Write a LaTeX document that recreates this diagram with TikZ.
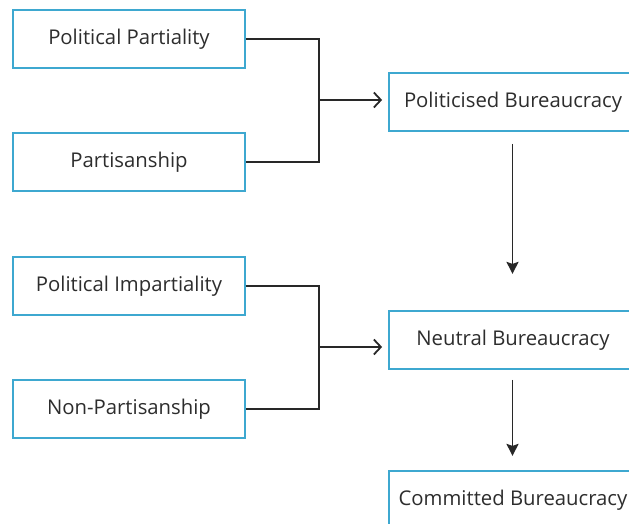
\documentclass[tikz,border=0pt]{standalone}
\usepackage{fontspec}
\setmainfont{Open Sans}
\usetikzlibrary{arrows.meta}

\begin{document}
\begin{tikzpicture}[x=1pt, y=1pt, >=Stealth]

	\def\lx{129}
	\def\rx{513}
	\def\bx{319}
	\def\lw{232}
	\def\rw{248}
	\def\bh{58}

	% Colours
	\definecolor{boxcolor}{RGB}{62,168,208}
	\definecolor{linecolor}{RGB}{40,40,40}
	\definecolor{textcolor}{RGB}{45,45,45}

	% Styles
	\tikzstyle{leftbox}=[draw=boxcolor, line width=1.8pt, fill=white, text=textcolor,
		minimum width=\lw, minimum height=\bh, inner sep=0pt, font=\fontsize{20.3}{24}\selectfont]
	\tikzstyle{rightbox}=[leftbox, minimum width=\rw]
	\tikzstyle{link}=[draw=linecolor, line width=1.8pt]

	% Frame
	\clip (0,0) rectangle (629,524);
	\fill[white] (0,0) rectangle (629,524);

	% Inputs
	\node[leftbox] (pp)   at (\lx, 485) {Political Partiality};
	\node[leftbox] (part) at (\lx, 362) {Partisanship};
	\node[leftbox] (pi)   at (\lx, 238) {Political Impartiality};
	\node[leftbox] (np)   at (\lx, 115) {Non-Partisanship};

	% Bureaucracies
	\node[rightbox] (polb) at (\rx, 422) {Politicised Bureaucracy};
	\node[rightbox] (neub) at (\rx, 184) {Neutral Bureaucracy};
	\node[rightbox] (comb) at (\rx, 24)  {Committed Bureaucracy};

	% Brackets
	\draw[link] (pp.east) -| (\bx, 424) coordinate (J1) |- (part.east);
	\draw[link] (pi.east) -| (\bx, 177) coordinate (J2) |- (np.east);
	\draw[link, -{Straight Barb[length=7pt, width=15pt]}] (J1) -- ([xshift=-6pt] J1 -| polb.west);
	\draw[link, -{Straight Barb[length=7pt, width=15pt]}] (J2) -- ([xshift=-6pt] J2 -| neub.west);

	% Downward arrows
	\draw[link, -{Stealth[length=12pt, width=12pt, inset=2pt]}] ([xshift=-0.5pt, yshift=-12pt] polb.south) -- ++(0, -130);
	\draw[link, -{Stealth[length=12pt, width=12pt, inset=2pt]}] ([xshift=-0.5pt, yshift=-10pt] neub.south) -- ++(0, -76);

\end{tikzpicture}
\end{document}
